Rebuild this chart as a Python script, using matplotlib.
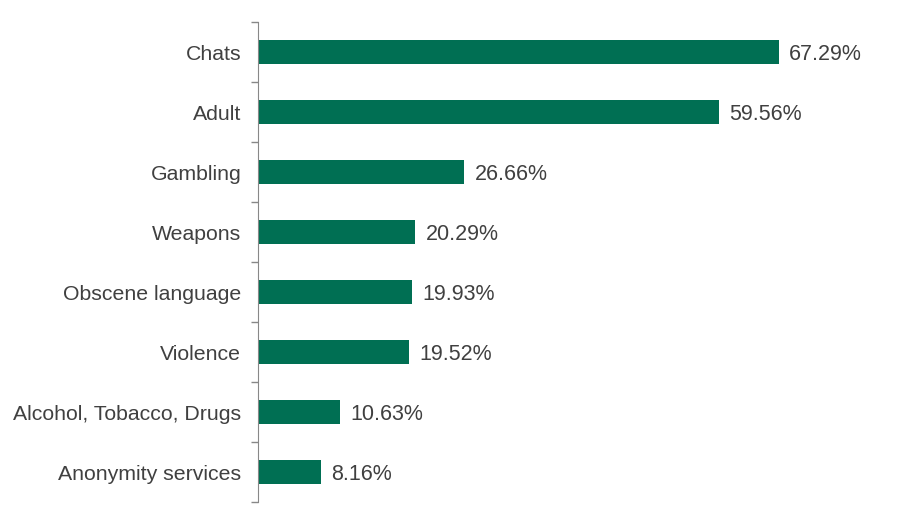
import matplotlib.pyplot as plt
import numpy as np

categories = ["Chats", "Adult", "Gambling", "Weapons", "Obscene language",
              "Violence", "Alcohol, Tobacco, Drugs", "Anonymity services"]
values = [67.29, 59.56, 26.66, 20.29, 19.93, 19.52, 10.63, 8.16]

plt.rcParams['font.family'] = ['Liberation Sans', 'DejaVu Sans']
text_color = '#404040'
bar_color = '#006F53'

fig = plt.figure(figsize=(9, 5.25), dpi=100)
ax = fig.add_axes([258 / 900, 1 - 502 / 525, (80 * 7.74) / 900, 480 / 525])

y = np.arange(len(categories))
ax.barh(y, values, height=0.385, color=bar_color)
ax.set_ylim(len(categories) - 0.5, -0.5)
ax.set_xlim(0, 80)

for yi, v in zip(y, values):
    ax.annotate(f"{v:.2f}%", (v, yi), xytext=(7.5, -1.5), textcoords='offset points',
                va='center', ha='left', fontsize=15.5, color=text_color)

ax.set_yticks(y)
ax.set_yticklabels(categories, fontsize=15.3, color=text_color)
ax.tick_params(axis='y', which='major', length=0, pad=12)
ax.set_yticks(np.arange(len(categories) + 1) - 0.5, minor=True)
ax.tick_params(axis='y', which='minor', length=5, color='#888888', width=1)
ax.set_xticks([])

for s in ['top', 'right', 'bottom']:
    ax.spines[s].set_visible(False)
ax.spines['left'].set_color('#888888')

fig.savefig('out.png', dpi=100)
